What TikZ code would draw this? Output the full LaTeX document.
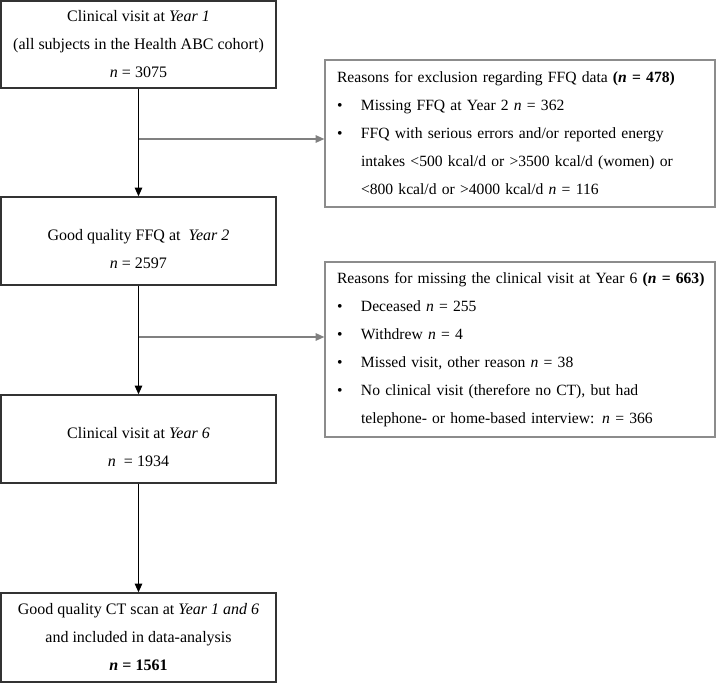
\documentclass[tikz,border=0pt]{standalone}
\usepackage{fontspec}
\setmainfont{Liberation Serif}
\usetikzlibrary{arrows.meta}

\newcommand{\bul}{\makebox[19.2pt][l]{\textbullet}}
\newcommand{\ind}{\hspace*{19.2pt}}

\begin{document}
\begin{tikzpicture}[x=0.8pt, y=-0.8pt,
  font=\fontsize{12.8}{22.4}\selectfont,
  flowbox/.style={draw=black!80, line width=1.1pt, minimum width=220pt, minimum height=70.4pt, align=center},
  reasonbox/.style={draw=black!45, line width=1pt, text width=292.8pt, inner xsep=9.6pt, align=left, font=\fontsize{12.5}{22.4}\selectfont},
  mainarrow/.style={-{Triangle[length=7pt, width=6pt]}, line width=1pt, black},
  sidearrow/.style={-{Triangle[length=7pt, width=6pt]}, line width=1pt, black!50}]
\useasboundingbox (0,0) rectangle (717,683);

\node[flowbox, minimum height=69.6pt] (visit1) at (138.5,44.5) {Clinical visit at \textit{Year 1}\\(all subjects in the Health ABC cohort)\\\textit{n} = 3075};
\node[flowbox] (ffq2) at (138.5,241) {\mbox{}\\Good quality FFQ at\ \ \textit{Year 2}\\\textit{n} = 2597};
\node[flowbox] (visit6) at (138.5,439) {\mbox{}\\Clinical visit at \textit{Year 6}\\\textit{n}\ \ = 1934};
\node[flowbox, minimum height=71.2pt] (ctscan) at (138.5,637.5) {Good quality CT scan at \textit{Year 1 and 6}\\and included in data-analysis\\\textbf{\textit{n} = 1561}};

\node[reasonbox, minimum height=117.6pt] (excl) at (520,133.5) {\mbox{Reasons for exclusion regarding FFQ data \textbf{(\textit{n} = 478)}}\\
\bul Missing FFQ at Year 2 \textit{n} = 362\\
\bul \mbox{FFQ with serious errors and/or reported energy}\\
\ind \mbox{intakes <500 kcal/d or >3500 kcal/d (women) or}\\
\ind <800 kcal/d or >4000 kcal/d \textit{n} = 116};
\node[reasonbox, minimum height=140pt] (missed) at (520,349.5) {\mbox{Reasons for missing the clinical visit at Year 6 \textbf{(\textit{n} = 663)}}\\
\bul Deceased \textit{n} = 255\\
\bul Withdrew \textit{n} = 4\\
\bul Missed visit, other reason \textit{n} = 38\\
\bul No clinical visit (therefore no CT), but had\\
\ind \mbox{telephone- or home-based interview: \textit{n} = 366}};

\coordinate (tapA) at (138.5,139);
\coordinate (tapB) at (138.5,337);

\draw[mainarrow] (visit1) -- (ffq2);
\draw[mainarrow] (ffq2) -- (visit6);
\draw[mainarrow] (visit6) -- (ctscan);
\draw[sidearrow] (tapA) -- (tapA -| excl.west);
\draw[sidearrow] (tapB) -- (tapB -| missed.west);
\end{tikzpicture}
\end{document}
